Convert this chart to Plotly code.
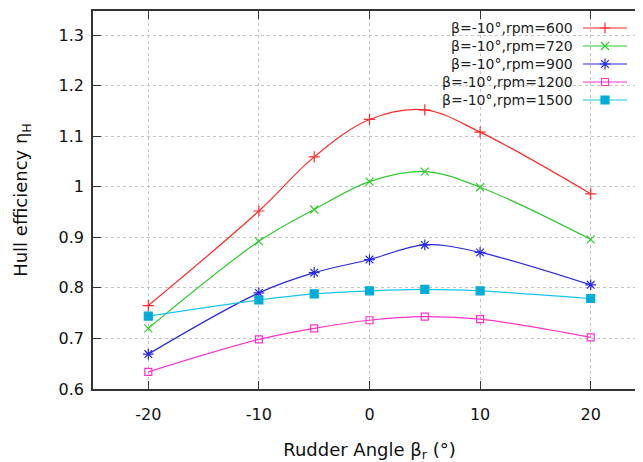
import plotly.graph_objects as go

# Rudder angle (deg) and hull efficiency for each rpm
angles = [-20, -10, -5, 0, 5, 10, 20]
eta_600 = [0.765, 0.952, 1.059, 1.133, 1.152, 1.108, 0.986]
eta_720 = [0.720, 0.892, 0.955, 1.010, 1.030, 0.999, 0.896]
eta_900 = [0.669, 0.790, 0.830, 0.856, 0.885, 0.870, 0.806]
eta_1200 = [0.634, 0.698, 0.720, 0.736, 0.743, 0.738, 0.702]
eta_1500 = [0.744, 0.776, 0.788, 0.794, 0.797, 0.794, 0.779]

labels = ["β=-10°,rpm=600", "β=-10°,rpm=720", "β=-10°,rpm=900",
          "β=-10°,rpm=1200", "β=-10°,rpm=1500"]
x_ticks = [-20, -10, 0, 10, 20]
x_ticktext = ["-20", "-10", "0", "10", "20"]
y_ticks = [0.6, 0.7, 0.8, 0.9, 1.0, 1.1, 1.2, 1.3]
y_ticktext = ["0.6", "0.7", "0.8", "0.9", "1", "1.1", "1.2", "1.3"]

series = [eta_600, eta_720, eta_900, eta_1200, eta_1500]
styles = [
    dict(color="#ff2a2a", symbol="cross-thin-open", size=8, mcolor="#ff2a2a"),
    dict(color="#2ecc2e", symbol="x-thin-open", size=8, mcolor="#2ecc2e"),
    dict(color="#2a2ae0", symbol="asterisk-open", size=9, mcolor="#2a2ae0"),
    dict(color="#ff33cc", symbol="square-open", size=7, mcolor="#ff33cc"),
    dict(color="#18c4f0", symbol="square", size=8, mcolor="#00acd8"),
]

FONT = "DejaVu Sans"
# the page body adds an 8px offset, so the frame is laid out with that in mind
W, H = 643, 462
L, R, T, B = 85, 5, 3, 81

fig = go.Figure()
for vals, st in zip(series, styles):
    fig.add_trace(go.Scatter(
        x=angles, y=vals, mode="lines+markers",
        line=dict(color=st["color"], width=1.2, shape="spline", smoothing=1.0),
        marker=dict(symbol=st["symbol"], size=st["size"], color=st["mcolor"],
                    line=dict(color=st["mcolor"], width=1.2)),
        showlegend=False,
    ))

# hand-made legend (label on the left, sample on the right) in pixel space
for i, (lab, st) in enumerate(zip(labels, styles)):
    yy = 20 + 18 * i
    fig.add_trace(go.Scatter(
        x=[575, 619], y=[yy, yy], mode="lines", xaxis="x2", yaxis="y2",
        line=dict(color=st["color"], width=1.2), showlegend=False, hoverinfo="skip"))
    fig.add_trace(go.Scatter(
        x=[597], y=[yy], mode="markers", xaxis="x2", yaxis="y2",
        marker=dict(symbol=st["symbol"], size=st["size"], color=st["mcolor"],
                    line=dict(color=st["mcolor"], width=1.2)),
        showlegend=False, hoverinfo="skip"))
    fig.add_annotation(x=567, y=yy, xref="x2", yref="y2", text=lab,
                       showarrow=False, xanchor="right", yanchor="middle",
                       font=dict(family=FONT, size=14, color="#222222"))

axis_common = dict(
    showline=True, linecolor="#333333", linewidth=1.5, mirror="allticks",
    ticks="inside", ticklen=8, tickwidth=1.2, tickcolor="#333333",
    showgrid=True, gridcolor="#c4c4c4", gridwidth=1, griddash="dot",
    zeroline=False, automargin=False,
    tickfont=dict(family=FONT, size=16, color="#111111"),
)

fig.update_layout(
    width=W, height=H,
    margin=dict(l=L, r=R, t=T, b=B),
    paper_bgcolor="white", plot_bgcolor="white",
    xaxis=dict(axis_common, range=[-25, 25], tickvals=x_ticks, ticktext=x_ticktext,
               ticklabelstandoff=10,
               title=dict(text="Rudder Angle β<sub>r</sub> (°)", standoff=20,
                          font=dict(family=FONT, size=18, color="#111111"))),
    yaxis=dict(axis_common, range=[0.6, 1.3475], tickvals=y_ticks, ticktext=y_ticktext,
               ticklabelstandoff=4,
               title=dict(text="Hull efficiency η<sub>H</sub>", standoff=26,
                          font=dict(family=FONT, size=18, color="#111111"))),
    xaxis2=dict(overlaying="x", range=[L, W - R], visible=False, fixedrange=True),
    yaxis2=dict(overlaying="y", range=[H - B, T], visible=False, fixedrange=True),
)

fig.write_html("out.html")
